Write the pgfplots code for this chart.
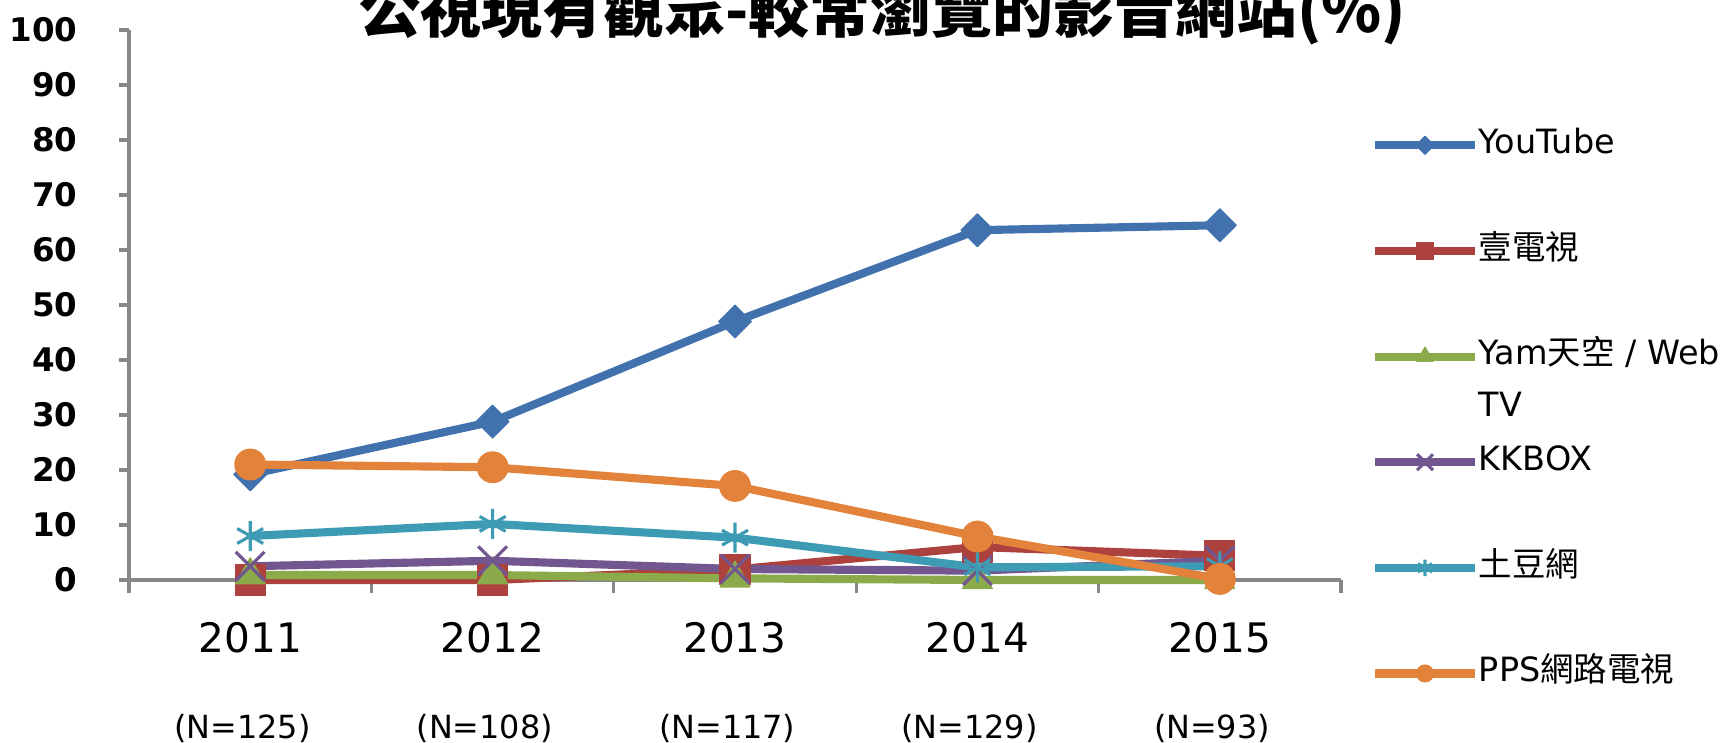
\documentclass[border=0pt]{standalone}
\usepackage{pgfplots}
\pgfplotsset{compat=1.18}
\usepackage{fontspec}
\setmainfont{DejaVu Sans}
\newfontfamily\cjk{Noto Sans CJK TC}
\definecolor{axisgray}{HTML}{878787}
\definecolor{cYT}{HTML}{4272AE}
\definecolor{cET}{HTML}{AD413E}
\definecolor{cYam}{HTML}{8BAA4A}
\definecolor{cKK}{HTML}{71568F}
\definecolor{cTD}{HTML}{3E9BB4}
\definecolor{cPPS}{HTML}{E3823A}
\begin{document}
\begin{tikzpicture}
\begin{axis}[
  scale only axis, width=387.84pt, height=176pt,
  xmin=-0.5, xmax=4.5, ymin=0, ymax=100,
  clip=false,
  axis lines*=left,
  axis line style={-, draw=axisgray, line width=1pt},
  ytick={0,10,...,100},
  xtick={0,1,2,3,4},
  xticklabels={2011,2012,2013,2014,2015},
  minor xtick={-0.5,0.5,1.5,2.5,3.5,4.5},
  tick align=outside,
  major tick length=3.2pt, minor tick length=4pt,
  major x tick style={draw=none},
  minor x tick style={draw=axisgray, line width=1pt},
  ytick style={draw=axisgray, line width=1pt},
  /pgf/number format/assume math mode=true,
  yticklabel style={font=\bfseries\fontsize{10.4}{12}\selectfont, xshift=-9.8pt},
  xticklabel style={font=\fontsize{13}{15}\selectfont, anchor=center, yshift=-15.3pt, xshift=0pt},
  extra x ticks={0,1,2,3,4},
  extra x tick labels={(N=125),(N=108),(N=117),(N=129),(N=93)},
  extra x tick style={major x tick style={draw=none}, xticklabel style={font=\fontsize{10.2}{12}\selectfont, yshift=-28.9pt, xshift=-2.5pt}},
  title={\cjk\bfseries 公視現有觀眾-較常瀏覽的影音網站(\%)},
  title style={at={(axis description cs:0.622,0.995)}, anchor=base, yshift=-6pt, font=\fontsize{19.5}{22}\selectfont, inner sep=0pt},
  legend style={at={(axis description cs:1.0243,0.8207)}, anchor=north west, draw=none, fill=none, inner sep=0pt, row sep=23.5pt, column sep=0pt, nodes={inner sep=0pt, text height=7.8pt, text depth=2.5pt}, font=\fontsize{10.7}{12}\selectfont},
  legend cell align=left,
  legend image code/.code={\draw[#1, mark size=0.55*\pgfplotmarksize, mark repeat=2, mark phase=2] plot coordinates {(0pt,0pt) (15.95pt,0pt) (31.9pt,0pt)};},
  every axis plot/.append style={line width=2.6pt, line join=round},
]
\coordinate (O) at (rel axis cs:0,0);
\coordinate (T) at (rel axis cs:1,1);
\addplot[cYT, mark=square*, mark size=3.7pt, mark options={rotate=45, fill=cYT, draw=cYT, line width=0.4pt, solid}]
  coordinates {(0,19.2) (1,28.8) (2,47.0) (3,63.6) (4,64.5)};
\addlegendentry{YouTube}
\addplot[cET, mark=square*, mark size=4.8pt, mark options={fill=cET, draw=cET, line width=0.4pt, solid}]
  coordinates {(0,0) (1,0) (2,1.9) (3,6.0) (4,4.4)};
\addlegendentry{\cjk 壹電視}
\addplot[cYam, mark=triangle*, mark size=5.5pt, mark options={fill=cYam, draw=cYam, line width=0.4pt, solid}]
  coordinates {(0,0.9) (1,0.9) (2,0.3) (3,0) (4,0)};
\addlegendentry{\begin{tabular}[t]{@{}l@{}}Yam{\cjk 天空} / Web\\[4.6pt]TV\end{tabular}}
\addplot[cKK, mark=x, mark size=6.5pt, mark options={line width=1pt, solid}]
  coordinates {(0,2.5) (1,3.5) (2,2.0) (3,1.7) (4,3.5)};
\addlegendentry{KKBOX}
\addplot[cTD, mark=asterisk, mark size=4.8pt, mark options={line width=1pt, solid}]
  coordinates {(0,8.0) (1,10.2) (2,7.7) (3,2.3) (4,2.5)};
\addlegendentry{\cjk 土豆網}
\addplot[cPPS, mark=*, mark size=4.9pt, mark options={fill=cPPS, draw=cPPS, line width=0.4pt, solid}]
  coordinates {(0,21.0) (1,20.5) (2,17.1) (3,7.9) (4,0.2)};
\addlegendentry{PPS{\cjk 網路電視}}
\end{axis}
\pgfresetboundingbox
\path[use as bounding box] ([shift={(-41.28pt,-51.84pt)}]O) rectangle ([shift={(124.8pt,9.6pt)}]T);
\end{tikzpicture}
\end{document}
